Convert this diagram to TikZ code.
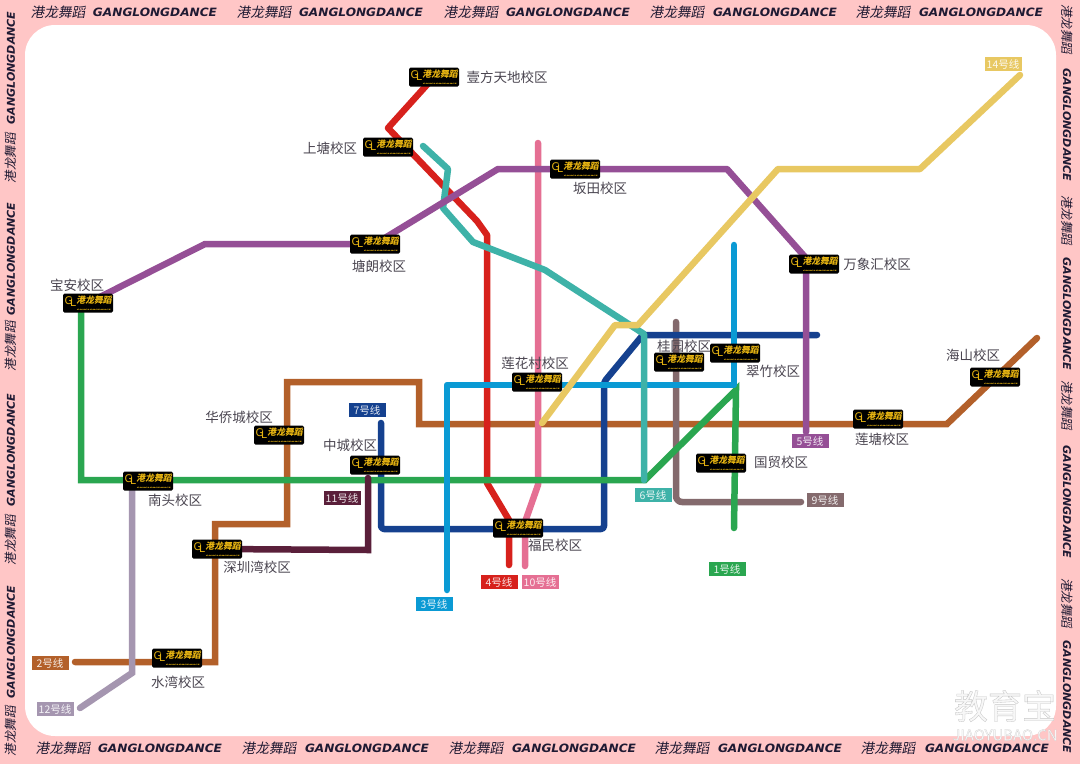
\documentclass[tikz,border=0pt]{standalone}
\usepackage{fontspec}
\setmainfont{Noto Sans CJK SC}
\newfontfamily\slantcjk[FakeSlant=0.18]{Noto Sans CJK SC}
\newfontfamily\brandlatin{DejaVu Sans}
\newfontfamily\markfont[FakeBold=1]{Noto Sans CJK SC}
\definecolor{pinkband}{HTML}{FFC6C6}
\definecolor{brandink}{HTML}{1F1A33}
\definecolor{placeink}{HTML}{4A4550}
\definecolor{badgegold}{HTML}{E8B512}
\definecolor{lineone}{HTML}{2AA650}
\definecolor{linetwo}{HTML}{B3602A}
\definecolor{linethree}{HTML}{0A9AD4}
\definecolor{linefour}{HTML}{D7211C}
\definecolor{linefive}{HTML}{954F96}
\definecolor{linesix}{HTML}{3EB2A8}
\definecolor{lineseven}{HTML}{15418F}
\definecolor{linenine}{HTML}{846A6D}
\definecolor{lineten}{HTML}{E56F93}
\definecolor{lineeleven}{HTML}{5A1F3A}
\definecolor{linetwelve}{HTML}{A596B0}
\definecolor{linefourteen}{HTML}{E8C862}
\pgfdeclarelayer{lines}
\pgfsetlayers{lines,main}
\newcommand{\glcn}{{\fontsize{13.7}{14}\selectfont\slantcjk 港龙舞蹈}}
\newcommand{\glen}{\resizebox{124pt}{8.5pt}{\brandlatin\bfseries\itshape GANGLONGDANCE}}
\newcommand{\glcnside}{{\fontsize{12.5}{13}\selectfont\slantcjk 港龙舞蹈}}
\newcommand{\glenside}{\resizebox{113pt}{8pt}{\brandlatin\bfseries\itshape GANGLONGDANCE}}
\newcommand{\glbadge}{{\fontsize{10.5}{11}\selectfont\brandlatin G\kern-2.5pt\raisebox{-2pt}{L}}\kern0.5pt\raisebox{-1.5pt}{\parbox[c]{35pt}{\centering\fontsize{8.8}{8.8}\selectfont\slantcjk\bfseries 港龙舞蹈\\[-1.5pt]\resizebox{34pt}{1.2pt}{\brandlatin GANGLONGDANCE}}}}
\newcommand{\markink}[1]{\special{pdf:bcolor [0.97 0.97 0.97] [0.78 0.78 0.78]}#1\special{pdf:ecolor}}
\begin{document}
\begin{tikzpicture}
[x=1pt, y=-1pt,
brandtext/.style={text=brandink, inner sep=0pt},
campus/.style={rectangle, rounded corners=1.5pt, fill=black, text=badgegold, inner sep=0pt, minimum width=50pt, minimum height=19pt},
place/.style={text=placeink, inner sep=0pt, font=\fontsize{13.5}{14}\selectfont},
tag/.style={rectangle, fill=#1, text=white!88!#1, inner sep=0pt, minimum width=37pt, minimum height=14pt, font=\fontsize{10.5}{11}\selectfont},
metro/.style={draw=#1, line width=6.5pt, line cap=round, line join=round}]

\useasboundingbox (0,0) rectangle (1080,764);

\node[brandtext] (t1) at (58,12) {\glcn};
\node[brandtext] (t2) at (155,12) {\glen};
\node[brandtext] (t3) at (264,12) {\glcn};
\node[brandtext] (t4) at (361,12) {\glen};
\node[brandtext] (t5) at (471,12) {\glcn};
\node[brandtext] (t6) at (568,12) {\glen};
\node[brandtext] (t7) at (677,12) {\glcn};
\node[brandtext] (t8) at (775,12) {\glen};
\node[brandtext] (t9) at (883,12) {\glcn};
\node[brandtext] (t10) at (981,12) {\glen};

\node[brandtext] (b1) at (63,748) {\glcn};
\node[brandtext] (b2) at (160,748) {\glen};
\node[brandtext] (b3) at (269,748) {\glcn};
\node[brandtext] (b4) at (367,748) {\glen};
\node[brandtext] (b5) at (476,748) {\glcn};
\node[brandtext] (b6) at (574,748) {\glen};
\node[brandtext] (b7) at (682,748) {\glcn};
\node[brandtext] (b8) at (780,748) {\glen};
\node[brandtext] (b9) at (888,748) {\glcn};
\node[brandtext] (b10) at (987,748) {\glen};

\node[brandtext,rotate=90] (l1) at (11,68) {\glenside};
\node[brandtext,rotate=90] (l2) at (11,158) {\glcnside};
\node[brandtext,rotate=90] (l3) at (11,259) {\glenside};
\node[brandtext,rotate=90] (l4) at (11,346) {\glcnside};
\node[brandtext,rotate=90] (l5) at (11,450) {\glenside};
\node[brandtext,rotate=90] (l6) at (11,540) {\glcnside};
\node[brandtext,rotate=90] (l7) at (11,642) {\glenside};
\node[brandtext,rotate=90] (l8) at (11,731) {\glcnside};

\node[brandtext,rotate=-90] (r1) at (1067,29) {\glcnside};
\node[brandtext,rotate=-90] (r2) at (1067,125) {\glenside};
\node[brandtext,rotate=-90] (r3) at (1067,220) {\glcnside};
\node[brandtext,rotate=-90] (r4) at (1067,314) {\glenside};
\node[brandtext,rotate=-90] (r5) at (1067,405) {\glcnside};
\node[brandtext,rotate=-90] (r6) at (1067,502) {\glenside};
\node[brandtext,rotate=-90] (r7) at (1067,603) {\glcnside};
\node[brandtext,rotate=-90] (r8) at (1067,697) {\glenside};

\node[campus] (c1) at (434,77) {\glbadge};
\node[campus] (c2) at (388,147) {\glbadge};
\node[campus] (c3) at (575,169) {\glbadge};
\node[campus] (c4) at (375,244) {\glbadge};
\node[campus] (c5) at (88,303) {\glbadge};
\node[campus] (c6) at (814,264) {\glbadge};
\node[campus] (c7) at (995,377) {\glbadge};
\node[campus] (c8) at (878,419) {\glbadge};
\node[campus] (c9) at (279,435) {\glbadge};
\node[campus] (c10) at (375,465) {\glbadge};
\node[campus] (c11) at (148,481) {\glbadge};
\node[campus] (c12) at (217,549) {\glbadge};
\node[campus] (c13) at (177,658) {\glbadge};
\node[campus] (c14) at (518,528) {\glbadge};
\node[campus] (c15) at (537,382) {\glbadge};
\node[campus] (c16) at (679,362) {\glbadge};
\node[campus] (c17) at (735,353) {\glbadge};
\node[campus] (c18) at (721,463) {\glbadge};

\node[place] (n1) at (507,77) {壹方天地校区};
\node[place] (n2) at (330,148) {上塘校区};
\node[place] (n3) at (600,188) {坂田校区};
\node[place] (n4) at (379,266) {塘朗校区};
\node[place] (n5) at (77,285) {宝安校区};
\node[place] (n6) at (877,264) {万象汇校区};
\node[place] (n7) at (973,355) {海山校区};
\node[place] (n8) at (882,439) {莲塘校区};
\node[place] (n9) at (239,417) {华侨城校区};
\node[place] (n10) at (350,445) {中城校区};
\node[place] (n11) at (175,500) {南头校区};
\node[place] (n12) at (257,567) {深圳湾校区};
\node[place] (n13) at (178,682) {水湾校区};
\node[place] (n14) at (555,545) {福民校区};
\node[place] (n15) at (535,363) {莲花村校区};
\node[place] (n16) at (684,346) {桂园校区};
\node[place] (n17) at (773,371) {翠竹校区};
\node[place] (n18) at (781,462) {国贸校区};

\node[tag=lineone] (s1) at (727,569) {1号线};
\node[tag=linetwo] (s2) at (50,663) {2号线};
\node[tag=linethree] (s3) at (434,604) {3号线};
\node[tag=linefour] (s4) at (499,582) {4号线};
\node[tag=linefive] (s5) at (810,441) {5号线};
\node[tag=linesix] (s6) at (653,495) {6号线};
\node[tag=lineseven] (s7) at (367,410) {7号线};
\node[tag=linenine] (s9) at (825,500) {9号线};
\node[tag=lineten] (s10) at (540,582) {10号线};
\node[tag=lineeleven] (s11) at (342,498) {11号线};
\node[tag=linetwelve] (s12) at (55,709) {12号线};
\node[tag=linefourteen] (s14) at (1003,64) {14号线};

\node[inner sep=0pt, font=\fontsize{34}{34}\selectfont\markfont] (wm1) at (1005,706) {\markink{教育宝}};
\node[inner sep=0pt, font=\fontsize{15}{15}\selectfont\markfont] (wm2) at (1005,735) {\markink{JIAOYUBAO.CN}};

\coordinate (e1) at (734,528);
\coordinate (e2a) at (1037,338);
\coordinate (e2b) at (75,662);
\coordinate (e3a) at (734,245);
\coordinate (e3b) at (447,590);
\coordinate (e4) at (509,565);
\coordinate (e5) at (806,432);
\coordinate (e6a) at (423,146);
\coordinate (e6b) at (644,480);
\coordinate (e7a) at (381,423);
\coordinate (e7b) at (817,335);
\coordinate (e9a) at (676,322);
\coordinate (e9b) at (801,502);
\coordinate (e10a) at (538,143);
\coordinate (e10b) at (525,566);
\coordinate (e11) at (368,478);
\coordinate (e12a) at (132,481);
\coordinate (e12b) at (80,708);
\coordinate (e14a) at (1020,75);
\coordinate (e14b) at (542,423);

\begin{pgfonlayer}{lines}
\fill[pinkband] (0,0) rectangle (1080,764);
\fill[white,rounded corners=30pt] (25,25) rectangle (1056,736);

\draw[metro=linetwo,line join=miter] (e2a) -- (947,424) -- (419,424) -- (419,382) -- (287,382) -- (287,524) -- (215,524) -- (215,662) -- (e2b);
\draw[metro=linetwelve,line join=miter] (e12a) -- (132,673) -- (e12b);
\draw[metro=linenine,rounded corners=6pt] (e9a) -- (676,502) -- (e9b);
\draw[metro=linefour] (c1.center) -- (388,128) -- (477,221) -- (487,235) -- (487,483) -- (509,520) -- (e4);
\draw[metro=lineten] (e10a) -- (538,485) -- (525,522) -- (e10b);
\draw[metro=lineseven,rounded corners=3pt] (e7a) -- (381,529) -- (604,529) -- (604,382) -- (642,336) -- (644,335) -- (e7b);
\draw[metro=lineone,line join=miter] (c5.center) -- (81,303) -- (81,480) -- (645,480) -- (736,390) -- (e1);
\draw[metro=lineeleven,line join=miter] (e11) -- (368,550) -- (c12.center);
\draw[metro=linethree] (e3a) -- (734,385) -- (447,385) -- (e3b);
\draw[metro=linesix] (e6a) -- (448,169) -- (443,208) -- (473,242) -- (545,270) -- (644,334) -- (e6b);
\draw[metro=linefive] (c5.center) -- (205,244) -- (c4.center) -- (498,169) -- (c3.center) -- (727,169) -- (806,258) -- (e5);
\draw[metro=linefourteen] (e14a) -- (920,169) -- (778,169) -- (638,325) -- (615,325) -- (e14b);
\end{pgfonlayer}

\end{tikzpicture}
\end{document}
